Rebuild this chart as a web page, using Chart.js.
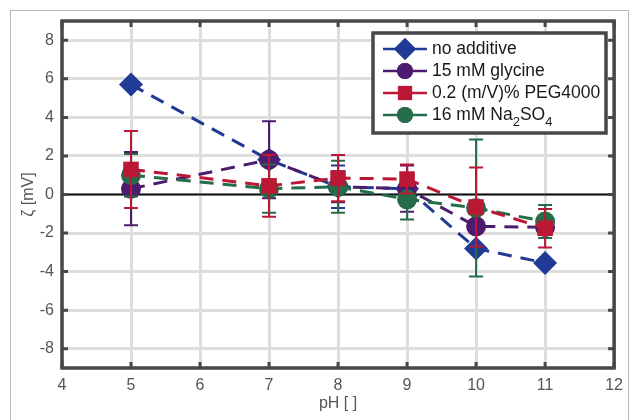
<!DOCTYPE html>
<html>
<head>
<meta charset="utf-8">
<script src="https://cdn.jsdelivr.net/npm/chart.js@4.4.0/dist/chart.umd.min.js"></script>
<style>
  html, body { margin: 0; padding: 0; background: #fff; }
  #wrap { width: 631px; height: 420px; position: relative; }
</style>
</head>
<body>
<div id="wrap"><canvas id="zeta"></canvas></div>
<script>
// pH values where zeta was measured
const pH = [5, 7, 8, 9, 10, 11]
const xTicks = [4, 5, 6, 7, 8, 9, 10, 11, 12]
const yTicks = [-8, -6, -4, -2, 0, 2, 4, 6, 8]

// zeta potential [mV] and error bar half-widths
const noAdditive = [5.7, 1.8, 0.4, 0.3, -2.8, -3.55]
const noAdditiveErr = [0, 0, 1.1, 0, 0, 0]
const glycine = [0.3, 1.8, 0.4, 0.3, -1.65, -1.7]
const glycineErr = [1.9, 2.0, 0.8, 1.2, 0.3, 0.3]
const peg = [1.3, 0.45, 0.85, 0.8, -0.65, -1.75]
const pegErr = [2.0, 1.6, 1.2, 0.75, 2.05, 1.0]
const sulfate = [1.0, 0.3, 0.4, -0.25, -0.7, -1.4]
const sulfateErr = [1.1, 1.25, 1.35, 1.05, 3.55, 0.85]

const blue = 'rgb(33, 58, 148)'
const purple = 'rgb(76, 28, 112)'
const red = 'rgb(186, 24, 52)'
const green = 'rgb(36, 108, 74)'
const FONT = '"Liberation Sans", Arial, Helvetica, sans-serif'

function pts(vals) {
    return pH.map(function (p, i) { return { x: p, y: vals[i] } })
}

function series(label, vals, err, color, style, radius, order) {
    return {
        label: label,
        data: pts(vals),
        err: err,
        showLine: true,
        borderColor: color,
        backgroundColor: color,
        borderWidth: 3,
        borderDash: [14, 9],
        pointStyle: style,
        pointRadius: radius,
        pointBorderWidth: 0,
        pointBackgroundColor: color,
        order: order
    }
}

// error bars, zero line, frame with inward ticks, legend
const decor = {
    id: 'decor',
    beforeDatasetsDraw(chart) {
        const c = chart.ctx, a = chart.chartArea, y0 = chart.scales.y.getPixelForValue(0)
        c.save()
        c.strokeStyle = '#111'
        c.lineWidth = 2
        c.beginPath()
        c.moveTo(a.left, y0)
        c.lineTo(a.right, y0)
        c.stroke()
        c.restore()
    },
    beforeDatasetDraw(chart, args) {
        const ds = chart.data.datasets[args.index]
        const c = chart.ctx, xs = chart.scales.x, ys = chart.scales.y
        c.save()
        c.strokeStyle = ds.borderColor
        c.lineWidth = 2
        ds.data.forEach(function (d, i) {
            const e = ds.err[i]
            if (!e) return
            const px = xs.getPixelForValue(d.x)
            const top = ys.getPixelForValue(d.y + e)
            const bot = ys.getPixelForValue(d.y - e)
            c.beginPath()
            c.moveTo(px, top); c.lineTo(px, bot)
            c.moveTo(px - 7, top); c.lineTo(px + 7, top)
            c.moveTo(px - 7, bot); c.lineTo(px + 7, bot)
            c.stroke()
        })
        c.restore()
    },
    afterDraw(chart) {
        const c = chart.ctx, a = chart.chartArea, xs = chart.scales.x, ys = chart.scales.y
        c.save()
        // outer figure border
        c.strokeStyle = '#b8b8b8'
        c.lineWidth = 1
        c.strokeRect(10.5, 10.5, 618, 430)
        // axes frame
        c.strokeStyle = '#474747'
        c.lineWidth = 3.5
        c.strokeRect(a.left, a.top, a.right - a.left, a.bottom - a.top)
        c.lineWidth = 3
        c.beginPath()
        xTicks.forEach(function (t) {
            const px = xs.getPixelForValue(t)
            c.moveTo(px, a.bottom); c.lineTo(px, a.bottom - 6)
            c.moveTo(px, a.top); c.lineTo(px, a.top + 6)
        })
        yTicks.forEach(function (t) {
            const py = ys.getPixelForValue(t)
            c.moveTo(a.left, py); c.lineTo(a.left + 6, py)
            c.moveTo(a.right, py); c.lineTo(a.right - 6, py)
        })
        c.stroke()

        // legend
        const L = 373, T = 33, R = 606, B = 133
        c.fillStyle = '#fff'
        c.fillRect(L, T, R - L, B - T)
        c.strokeStyle = '#474747'
        c.lineWidth = 3.5
        c.strokeRect(L, T, R - L, B - T)
        const rows = [49, 71, 93, 115]
        const marks = [['rectRot', 11], ['circle', 8], ['rect', 10], ['circle', 8]]
        chart.data.datasets.forEach(function (ds, i) {
            const yy = rows[i]
            c.strokeStyle = ds.borderColor
            c.lineWidth = 2.5
            c.beginPath()
            c.moveTo(383, yy); c.lineTo(427, yy)
            c.stroke()
            c.fillStyle = ds.borderColor
            Chart.helpers.drawPoint(c, { pointStyle: marks[i][0], radius: marks[i][1], borderWidth: 0 }, 405, yy)
            c.fill()
            c.fillStyle = '#1a1a1a'
            c.font = '17.5px ' + FONT
            c.textBaseline = 'middle'
            c.textAlign = 'left'
            if (i === 3) {
                let x = 432
                const parts = [['16 mM Na', 0], ['2', 1], ['SO', 0], ['4', 1]]
                parts.forEach(function (p) {
                    c.font = (p[1] ? '13px ' : '17.5px ') + FONT
                    c.fillText(p[0], x, yy + (p[1] ? 7 : 0))
                    x += c.measureText(p[0]).width
                })
            } else {
                c.fillText(ds.label, 432, yy)
            }
        })
        c.restore()
    }
}

new Chart(document.getElementById('zeta'), {
    type: 'scatter',
    data: {
        datasets: [
            series('no additive', noAdditive, noAdditiveErr, blue, 'rectRot', 12, 4),
            series('15 mM glycine', glycine, glycineErr, purple, 'circle', 10, 3),
            series('0.2 (m/V)% PEG4000', peg, pegErr, red, 'rect', 11, 1),
            series('16 mM Na2SO4', sulfate, sulfateErr, green, 'circle', 10, 2)
        ]
    },
    options: {
        responsive: true,
        maintainAspectRatio: false,
        animation: false,
        layout: { padding: { top: 21, right: 14, left: 0, bottom: 0 } },
        plugins: { legend: { display: false }, tooltip: { enabled: false } },
        scales: {
            x: {
                type: 'linear',
                min: 4,
                max: 12,
                afterBuildTicks: function (s) { s.ticks = xTicks.map(function (v) { return { value: v } }) },
                afterFit: function (s) { s.height = 52 },
                grid: { color: '#dedede', lineWidth: 3, drawTicks: false },
                border: { display: false },
                ticks: { color: '#555', font: { family: FONT, size: 16 }, padding: 8, maxRotation: 0 },
                title: { display: true, text: 'pH [ ]', color: '#555', font: { family: FONT, size: 16 }, padding: { top: 0, bottom: 7 } }
            },
            y: {
                type: 'linear',
                min: -9,
                max: 9,
                afterBuildTicks: function (s) { s.ticks = yTicks.map(function (v) { return { value: v } }) },
                afterFit: function (s) { s.width = 62 },
                grid: { color: '#dedede', lineWidth: 3, drawTicks: false },
                border: { display: false },
                ticks: { color: '#555', font: { family: FONT, size: 16 }, padding: 8 },
                title: { display: true, text: 'ζ [mV]', color: '#555', font: { family: FONT, size: 16 }, padding: { top: 19, bottom: 0 } }
            }
        }
    },
    plugins: [decor]
});
</script>
</body>
</html>
